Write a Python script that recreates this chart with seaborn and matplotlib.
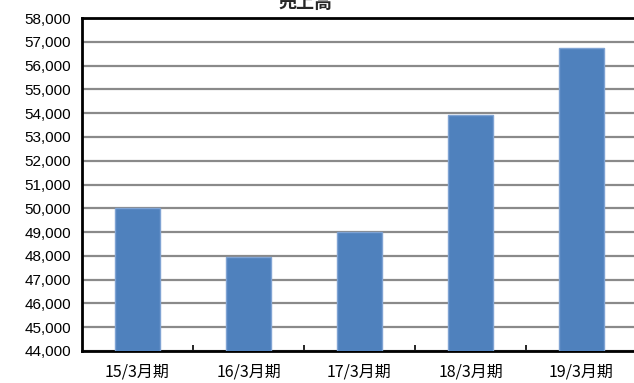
import matplotlib
matplotlib.use("Agg")
import matplotlib.pyplot as plt
import seaborn as sns
import pandas as pd
import numpy as np

# Fiscal periods and net sales
periods = ["15/3月期", "16/3月期", "17/3月期", "18/3月期", "19/3月期"]
sales = [50020, 47960, 49020, 53920, 56730]
y_ticks = list(range(44000, 58001, 1000))
title = "売上高"

sns.set_theme(style="white")
plt.rcParams["font.family"] = ["Liberation Sans", "Noto Sans CJK JP", "DejaVu Sans"]

df = pd.DataFrame({"period": periods, "sales": sales})

fig = plt.figure(figsize=(6.34, 3.83), dpi=100)
ax = fig.add_axes([82 / 634, 32 / 383, 555 / 634, 333 / 383])

sns.barplot(data=df, x="period", y="sales", color="#4F81BD", width=0.4,
            edgecolor="#7FA3D3", linewidth=1.0, saturation=1, ax=ax, zorder=3)

ax.set_ylim(y_ticks[0], y_ticks[-1])
ax.set_xlim(-0.5, len(periods) - 0.5)
ax.set_yticks(y_ticks)
ax.set_yticklabels([f"{v:,}" for v in y_ticks], fontsize=11, color="black",
                   family=["Liberation Sans", "DejaVu Sans"])
ax.yaxis.grid(True, color="#8A8A8A", linewidth=1.6, zorder=0)
ax.set_axisbelow(True)

# category labels, with tick marks between categories
ax.set_xticks(range(len(periods)))
ax.set_xticklabels(periods, fontsize=11.5, color="black",
                   family=["Noto Sans CJK JP", "DejaVu Sans"])
ax.tick_params(axis="x", length=0, pad=9)
ax.set_xticks(np.arange(0.5, len(periods) - 0.5, 1.0), minor=True)
ax.tick_params(axis="x", which="minor", direction="in", length=4, width=1.2,
               color="black", bottom=True)
ax.tick_params(axis="y", length=0, pad=8)

ax.set_xlabel("")
ax.set_ylabel("")

for side in ["left", "bottom", "top"]:
    ax.spines[side].set_visible(True)
    ax.spines[side].set_color("black")
    ax.spines[side].set_linewidth(2.0)
ax.spines["right"].set_visible(False)

fig.text(305 / 634, 381 / 383, title, ha="center", va="center",
         fontsize=13, fontweight="bold",
         family=["Noto Sans CJK JP", "DejaVu Sans"])

fig.savefig("out.png", dpi=100)
